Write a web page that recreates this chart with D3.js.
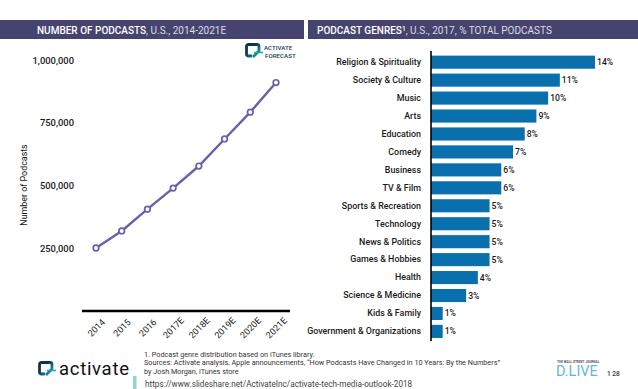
<!DOCTYPE html>
<html>
<head>
<meta charset="utf-8">
<script src="https://cdnjs.cloudflare.com/ajax/libs/d3/7.8.5/d3.min.js"></script>
<style>
  html, body { margin: 0; padding: 0; background: #fff; }
  text { font-family: Roboto, sans-serif; }
</style>
</head>
<body>
<div id="chart"></div>
<script>
// Line chart data
const years = ["2014", "2015", "2016", "2017E", "2018E", "2019E", "2020E", "2021E"];
const podcasts = [250000, 318000, 405000, 489000, 577000, 685000, 792000, 910000];
const podcastTicks = [250000, 500000, 750000, 1000000];

// Bar chart data
const genres = [
  "Religion & Spirituality", "Society & Culture", "Music", "Arts", "Education", "Comedy",
  "Business", "TV & Film", "Sports & Recreation", "Technology", "News & Politics",
  "Games & Hobbies", "Health", "Science & Medicine", "Kids & Family", "Government & Organizations"
];
const shares = [14, 11, 10, 9, 8, 7, 6, 6, 5, 5, 5, 5, 4, 3, 1, 1];

const notes = [
  "1. Podcast genre distribution based on iTunes library.",
  "Sources: Activate analysis, Apple announcements, \u201cHow Podcasts Have Changed in 10 Years: By the Numbers\u201d",
  "by Josh Morgan, iTunes store"
];

const width = 638;
const height = 389;
const navy = "#47436f";
const purple = "#6b5eae";
const blue = "#0a70ad";

const svg = d3.select("#chart").append("svg")
    .attr("width", width)
    .attr("height", height)
    .style("display", "block");

// Gradient for the logo mark
const grad = svg.append("defs").append("linearGradient")
    .attr("id", "logoGrad")
    .attr("x1", 0).attr("y1", 0).attr("x2", 1).attr("y2", 1);
grad.append("stop").attr("offset", "35%").attr("stop-color", "#0d3550");
grad.append("stop").attr("offset", "100%").attr("stop-color", "#19b3c4");

// Header bands
const header = (x, w, tx, bold) => {
  svg.append("rect").attr("x", x).attr("y", 20).attr("width", w).attr("height", 19).attr("fill", navy);
  const t = svg.append("text").attr("x", tx).attr("y", 34).attr("fill", "#fff").attr("font-size", 10);
  t.append("tspan").attr("font-weight", 500).text(bold);
  return t;
};
header(0, 304, 37, "NUMBER OF PODCASTS")
  .append("tspan").attr("fill", "#dcdbe6").text(", U.S., 2014-2021E");
const right = header(308, 330, 317, "PODCAST GENRES");
right.append("tspan").attr("font-size", 6.5).attr("dy", -3).attr("font-weight", 500).text("1");
right.append("tspan").attr("dy", 3).attr("fill", "#dcdbe6").text(", U.S., 2017, % TOTAL PODCASTS");

// Line chart
const x = d3.scalePoint().domain(years).range([96, 276]);
const y = d3.scaleLinear().domain([250000, 1000000]).range([248, 60]);

const xAxis = svg.append("g")
    .attr("transform", "translate(0,311)")
    .call(d3.axisBottom(x).tickSize(0));
xAxis.select(".domain").attr("d", "M82,0H290").attr("stroke", "#000").attr("stroke-width", 2.4);
xAxis.selectAll("text")
    .attr("y", 0)
    .attr("dy", "0.32em")
    .attr("font-size", 9)
    .attr("font-family", "Roboto, sans-serif")
    .attr("fill", "#1a1a1a")
    .attr("text-anchor", "middle")
    .attr("transform", "translate(0,17) rotate(-45)");

const yAxis = svg.append("g")
    .attr("transform", "translate(74,0)")
    .call(d3.axisLeft(y).tickValues(podcastTicks).tickSize(0).tickPadding(0).tickFormat(d3.format(",")));
yAxis.select(".domain").remove();
yAxis.selectAll("text")
    .attr("font-size", 9.4)
    .attr("font-weight", 500)
    .attr("font-family", "Roboto, sans-serif")
    .attr("fill", "#1a1a1a");

svg.append("text")
    .attr("transform", "translate(27,185) rotate(-90)")
    .attr("text-anchor", "middle")
    .attr("font-size", 8.9)
    .attr("fill", "#111")
    .text("Number of Podcasts");

svg.append("path")
    .datum(podcasts)
    .attr("fill", "none")
    .attr("stroke", purple)
    .attr("stroke-width", 2.4)
    .attr("d", d3.line().x((d, i) => x(years[i])).y(d => y(d)));

svg.selectAll("circle.pt")
    .data(podcasts)
    .enter()
    .append("circle")
    .attr("class", "pt")
    .attr("cx", (d, i) => x(years[i]))
    .attr("cy", d => y(d))
    .attr("r", 2.8)
    .attr("fill", "#fff")
    .attr("stroke", purple)
    .attr("stroke-width", 1.7);

// Logo mark, used twice
const mark = (g) => {
  g.append("path")
      .attr("d", "M7,13H3.5Q1.5,13 1.5,11V3.5Q1.5,1.5 3.5,1.5H12Q14,1.5 14,3.5V8L8,14")
      .attr("fill", "none").attr("stroke", "url(#logoGrad)").attr("stroke-width", 2.8);
  g.append("path")
      .attr("d", "M9,9.5H18")
      .attr("fill", "none").attr("stroke", "#19a9bd").attr("stroke-width", 1.6);
};

// Activate forecast badge
const badge = svg.append("g").attr("transform", "translate(245,43)");
mark(badge);
badge.append("text").attr("x", 19).attr("y", 7).attr("font-size", 6.2).attr("font-weight", 500).attr("fill", "#1c3a55").text("ACTIVATE");
badge.append("text").attr("x", 20).attr("y", 15).attr("font-size", 6.2).attr("font-weight", 500).attr("fill", "#1c3a55").text("FORECAST");

// Bar chart
const bx = d3.scaleLinear().domain([0, 14]).range([431, 595]);
const by = d3.scaleBand().domain(genres).range([53.3, 340.3]).paddingInner(0.27).paddingOuter(0.13);

svg.selectAll("rect.bar")
    .data(shares)
    .enter()
    .append("rect")
    .attr("class", "bar")
    .attr("x", bx(0))
    .attr("y", (d, i) => by(genres[i]))
    .attr("width", d => bx(d) - bx(0))
    .attr("height", by.bandwidth())
    .attr("fill", blue);

const yBars = svg.append("g")
    .attr("transform", "translate(431,0)")
    .call(d3.axisLeft(by).tickSize(0).tickPadding(10));
yBars.select(".domain").attr("d", "M0,51V341").attr("stroke", "#000").attr("stroke-width", 1.6);
yBars.selectAll("text")
    .attr("font-size", 8.9)
    .attr("font-weight", 500)
    .attr("font-family", "Roboto, sans-serif")
    .attr("fill", "#1a1a1a");

svg.selectAll("text.val")
    .data(shares)
    .enter()
    .append("text")
    .attr("class", "val")
    .attr("x", d => bx(d) + 2)
    .attr("y", (d, i) => by(genres[i]) + by.bandwidth() / 2 + 3)
    .attr("font-size", 8.6)
    .attr("font-weight", 500)
    .attr("fill", "#1a1a1a")
    .text(d => d + "%");

// Footnotes
svg.selectAll("text.note")
    .data(notes)
    .enter()
    .append("text")
    .attr("class", "note")
    .attr("x", 144)
    .attr("y", (d, i) => 357 + i * 8.4)
    .attr("font-size", 7.25)
    .attr("fill", "#333")
    .text(d => d);

// Activate logo
mark(svg.append("g").attr("transform", "translate(38,361)"));
svg.append("text").attr("x", 59).attr("y", 375).attr("font-size", 18.5).attr("letter-spacing", 0.7).attr("fill", "#111").attr("font-family", "Lato, sans-serif").text("activate");

// Source url strip
svg.append("rect").attr("x", 133).attr("y", 376).attr("width", 3.5).attr("height", 13).attr("fill", "#93d5cd");
svg.append("text").attr("x", 145).attr("y", 386.5).attr("font-size", 8.2).attr("fill", "#444")
    .text("https://www.slideshare.net/ActivateInc/activate-tech-media-outlook-2018");

// D.Live mark and page number
svg.append("text").attr("x", 557).attr("y", 363).attr("font-size", 3.2).attr("font-weight", 700).attr("fill", "#555").attr("font-family", "Liberation Serif, serif").text("THE WALL STREET JOURNAL");
svg.append("text").attr("x", 556).attr("y", 376).attr("font-size", 14.5).attr("fill", "#5fb9d6").attr("font-family", "Liberation Serif, serif").text("D.LIVE");
svg.append("text").attr("x", 607).attr("y", 376).attr("font-size", 6.5).attr("font-weight", 500).attr("fill", "#333").text("1 28");
</script>
</body>
</html>
